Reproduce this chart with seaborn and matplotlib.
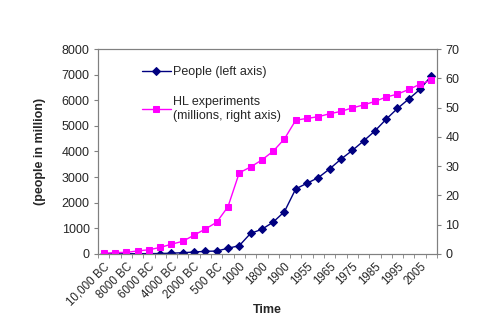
import matplotlib
matplotlib.use("Agg")
import matplotlib.pyplot as plt
import seaborn as sns
import numpy as np
import pandas as pd

categories = ["10,000 BC", "9000 BC", "8000 BC", "7000 BC", "6000 BC", "5000 BC",
              "4000 BC", "3000 BC", "2000 BC", "1000 BC", "500 BC", "1 AD", "1000",
              "1750", "1800", "1850", "1900", "1950", "1955", "1960", "1965", "1970",
              "1975", "1980", "1985", "1990", "1995", "2000", "2005", "2010"]
people = [1, 2, 5, 7, 10, 14, 27, 45, 72, 100, 110, 220, 320, 800, 960, 1240,
          1650, 2540, 2760, 2980, 3320, 3700, 4040, 4410, 4800, 5260, 5680,
          6050, 6430, 6960]
hl = [0.2, 0.45, 0.5, 1.0, 1.4, 2.2, 3.3, 4.3, 6.4, 8.5, 10.8, 16.1, 27.7,
      29.7, 32.1, 35.1, 39.3, 45.7, 46.3, 46.9, 47.9, 48.7, 49.9, 50.9, 52.1,
      53.6, 54.6, 56.2, 58.0, 59.4]

sns.set_style("white")
plt.rcParams['font.family'] = ['Liberation Sans', 'DejaVu Sans']

df = pd.DataFrame({"idx": np.arange(len(categories)), "cat": categories,
                   "people": people, "hl": hl})

fig = plt.figure(figsize=(5.0, 3.23), dpi=100)
ax = fig.add_axes([0.196, 0.214, 0.678, 0.634])
ax2 = ax.twinx()

sns.lineplot(data=df, x="idx", y="people", ax=ax, color="#000080", marker="D",
             markersize=3.8, markeredgecolor="#000080", linewidth=1,
             label="People (left axis)", legend=False)
sns.lineplot(data=df, x="idx", y="hl", ax=ax2, color="#FF00FF", marker="s",
             markersize=5, markeredgecolor="#FF00FF", linewidth=1,
             label="HL experiments\n(millions, right axis)", legend=False)

n = len(categories)
ax.set_xlim(-0.5, n - 0.5)
ax.set_ylim(0, 8000)
ax2.set_ylim(0, 70)
ax.set_yticks(np.arange(0, 8001, 1000))
ax2.set_yticks(np.arange(0, 71, 10))

fs = 9
ax.set_xticks(np.arange(0, n, 2))
ax.set_xticklabels(categories[::2], rotation=45, ha="right", rotation_mode="anchor")
ax.set_xticks(np.arange(-0.5, n, 1), minor=True)
ax.tick_params(axis="x", which="major", length=0, labelsize=8.3, pad=5)
ax.tick_params(axis="x", which="minor", length=3, color="#808080", direction="out", bottom=True)
ax.tick_params(axis="y", length=3, color="#808080", direction="out", labelsize=fs, left=True, pad=3)
ax2.tick_params(axis="y", length=3, color="#808080", direction="out", labelsize=fs, right=True, pad=3)

for a in (ax, ax2):
    for s in a.spines.values():
        s.set_color("#808080")
        s.set_linewidth(0.8)

ax.set_xlabel("")
fig.text(0.534, 1 - 310 / 323, "Time", fontsize=fs, fontweight="bold",
         ha="center", va="center")
ax.set_ylabel("(people in million)", fontsize=fs, fontweight="bold", labelpad=11)
ax2.set_ylabel("")

h1, l1 = ax.get_legend_handles_labels()
h2, l2 = ax2.get_legend_handles_labels()
leg = ax.legend(h1 + h2, l1 + l2, loc="upper left", bbox_to_anchor=(0.115, 0.94),
                frameon=False, fontsize=fs, labelspacing=1.4, handlelength=2.3,
                handletextpad=0.15, borderaxespad=0)

fig.savefig("out.png", dpi=100)
